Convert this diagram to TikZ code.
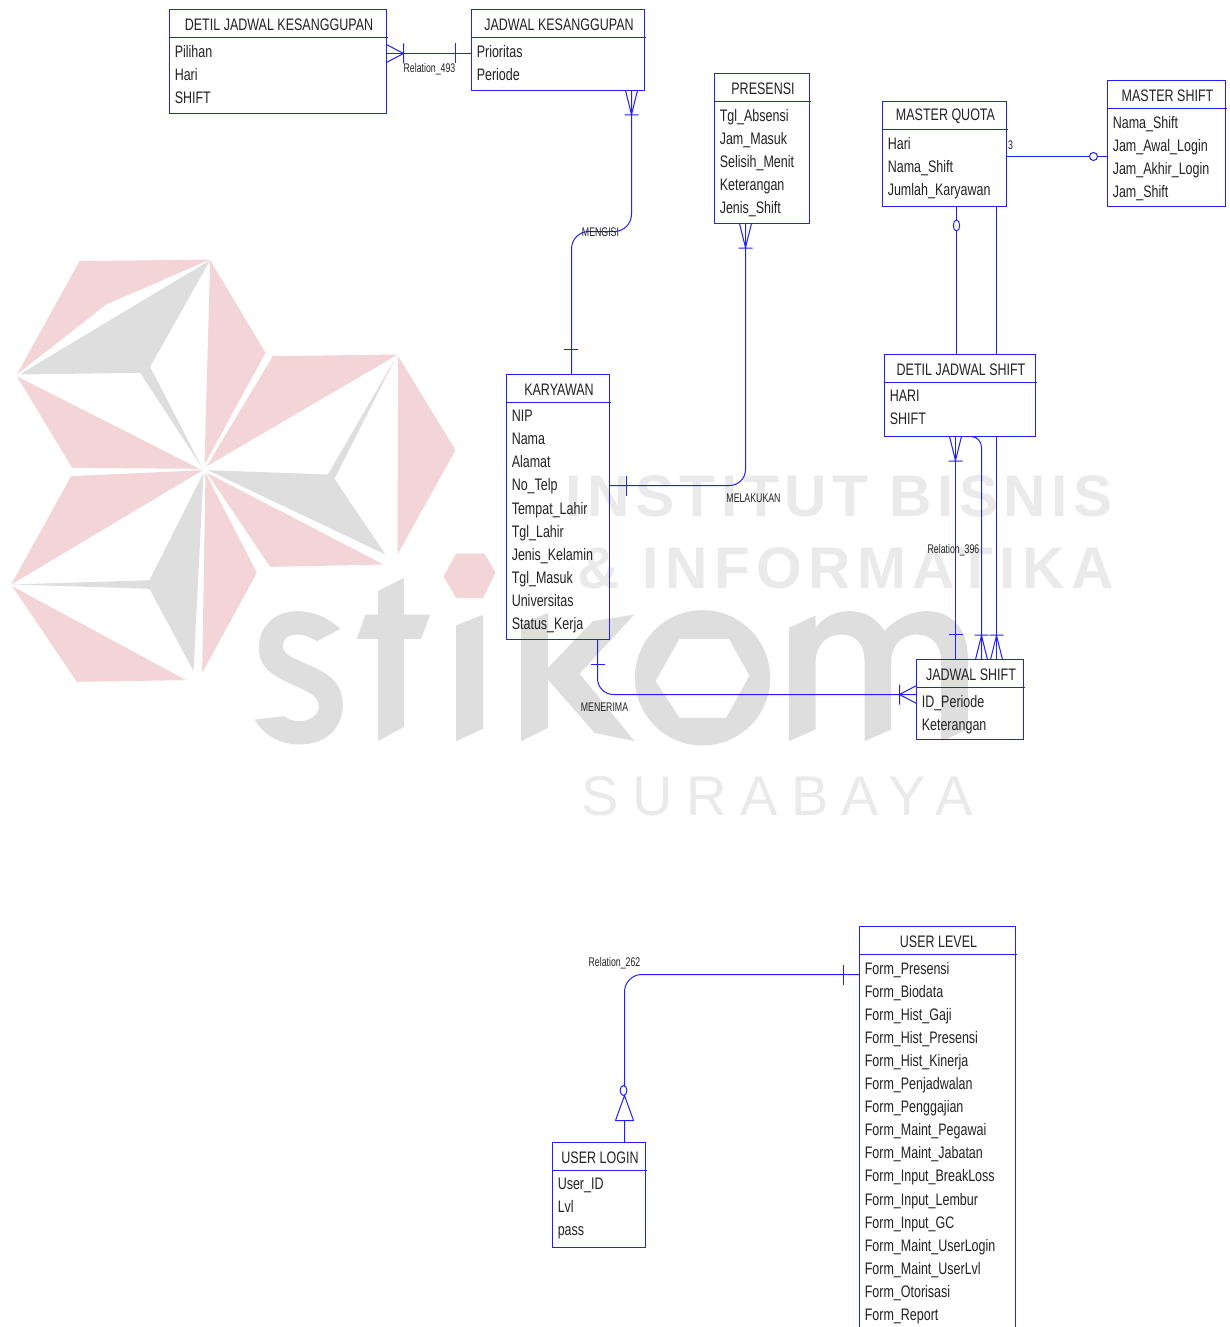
\documentclass[tikz,border=0pt]{standalone}
\usepackage{xcolor}
\usepackage{fontspec}
\setmainfont{Liberation Sans}
\newfontfamily\fontEr[FakeStretch=0.75]{Liberation Sans}
\newfontfamily\fontRel[FakeStretch=0.7]{Liberation Sans}
\newfontfamily\fontLogo[LetterSpace=9.3]{Liberation Sans Bold}
\newfontfamily\fontLogoB[LetterSpace=11]{Liberation Sans Bold}
\newfontfamily\fontKota[LetterSpace=24]{Liberation Sans}
\definecolor{biruGaris}{HTML}{2020FF}
\definecolor{teksHitam}{HTML}{222222}
\definecolor{abuLogo}{HTML}{DEDEDE}
\definecolor{merahLogo}{HTML}{F3D5D8}
\definecolor{abuTeks}{HTML}{EAEAEA}

\newcommand{\entitas}[7]{
\node[kotak,minimum width=#4*0.75pt,minimum height=#5*0.75pt,anchor=north west] (#1) at (#2,#3) {};
\node[judul] (#1j) at ([shift={(1,15)}]#1.north) {#6};
\draw[garis] ([shift={(0,28)}]#1.north west) -- ++(#4+1,0);
\node[isi] (#1i) at ([shift={(5,35.5)}]#1.north west) {#7};
}
\newcommand{\kakiV}[2]{\draw[garis] (#1) ++(-6,0) -- ++(6,#2*24) -- ++(6,-#2*24) ++(-13,#2*24.5) -- ++(14,0);}
\newcommand{\kakiH}[2]{\draw[garis] (#1) ++(0,-9) -- ++(#2*17,9) -- ++(-#2*17,9) ++(#2*17,-19) -- ++(0,20);}
\newcommand{\batangV}[1]{\draw[garis] (#1) ++(-7,0) -- ++(14,0);}
\newcommand{\batangH}[1]{\draw[garis] (#1) ++(0,-10) -- ++(0,20);}

\begin{document}
\begin{tikzpicture}[x=0.75pt,y=-0.75pt,
  garis/.style={draw=biruGaris,line width=0.75pt},
  kotak/.style={draw=biruGaris,line width=0.75pt,rectangle,inner sep=0pt,outer sep=0pt},
  judul/.style={text=teksHitam,font=\fontEr\fontsize{12.5}{15}\selectfont,inner sep=0pt},
  isi/.style={text=teksHitam,font=\fontEr\fontsize{12.5}{17.3}\selectfont,align=left,anchor=north west,inner sep=0pt},
  relasi/.style={text=teksHitam,font=\fontRel\fontsize{9.4}{10}\selectfont,inner sep=0pt}]
\clip (0.5,0.5) rectangle (1230.5,1327.5);
\useasboundingbox (0.5,0.5) rectangle (1230.5,1327.5);

\begin{scope}[shift={(0,240)},x=0.25pt,y=-0.25pt]
\fill[merahLogo] (240,65) -- (632,60) -- (320,195) -- (52,405) -- cycle;
\fill[abuLogo] (632,62) -- (60,405) -- (422,400) -- (608,685) -- (452,382) -- cycle;
\fill[merahLogo] (632,62) -- (798,340) -- (615,675) -- cycle;
\fill[merahLogo] (52,410) -- (600,688) -- (218,685) -- cycle;
\fill[merahLogo] (820,350) -- (1195,345) -- (622,680) -- cycle;
\fill[merahLogo] (1196,350) -- (1368,632) -- (1194,945) -- cycle;
\fill[abuLogo] (1190,352) -- (985,705) -- (625,692) -- (1158,945) -- (1005,718) -- cycle;
\fill[merahLogo] (622,700) -- (1152,975) -- (812,982) -- cycle;
\fill[merahLogo] (608,1300) -- (772,1000) -- (618,700) -- cycle;
\fill[abuLogo] (612,700) -- (450,1022) -- (40,1035) -- (450,1048) -- (582,1295) -- cycle;
\fill[merahLogo] (610,692) -- (215,710) -- (35,1035) -- cycle;
\fill[merahLogo] (38,1040) -- (560,1322) -- (232,1327) -- cycle;
\end{scope}

\begin{scope}[shift={(240,540)},x=0.25pt,y=-0.25pt]
\fill[abuLogo] (303,268) .. controls (260,230) and (215,215) .. (175,215)
  .. controls (100,215) and (58,265) .. (58,325) .. controls (58,385) and (100,410) .. (170,440)
  .. controls (215,460) and (238,475) .. (238,500) .. controls (238,530) and (205,545) .. (180,545)
  .. controls (160,545) and (145,540) .. (135,530) -- (45,540) .. controls (75,590) and (125,615) .. (180,615)
  .. controls (260,615) and (310,565) .. (310,495) .. controls (310,430) and (265,400) .. (205,375)
  .. controls (160,355) and (130,345) .. (130,320) .. controls (130,295) and (150,285) .. (175,285)
  .. controls (195,285) and (215,295) .. (232,305) -- cycle;
\fill[abuLogo] (415,155) -- (493,115) -- (493,225) -- (572,225) -- (545,298) -- (493,298) -- (493,562)
  -- (415,605) -- (415,298) -- (352,298) -- (378,225) -- (415,225) -- cycle;
\fill[abuLogo] (650,258) -- (730,226) -- (730,568) -- (650,605) -- cycle;
\fill[merahLogo] (612,110) -- (650,42) -- (735,42) -- (768,100) -- (730,176) -- (650,176) -- cycle;
\end{scope}

\begin{scope}[shift={(500,600)},x=0.25pt,y=-0.25pt]
\fill[abuLogo] (65,75) -- (145,40) -- (145,205) -- (280,65) -- (405,45) -- (240,222) -- (405,425)
  -- (285,400) -- (145,240) -- (145,385) -- (65,425) -- cycle;
\fill[abuLogo,even odd rule] (609,235) circle[radius=203]
  (540,118) -- (688,118) -- (750,228) -- (680,355) -- (540,355) -- (468,245) -- cycle;
\end{scope}

\begin{scope}[shift={(700,590)},x=0.25pt,y=-0.25pt]
\fill[abuLogo] (268,115) -- (348,78) -- (348,115) .. controls (375,80) and (410,65) .. (450,65)
  .. controls (495,65) and (530,85) .. (555,125) .. controls (590,85) and (640,65) .. (680,65)
  .. controls (760,65) and (805,120) .. (805,205) -- (805,420) -- (725,455) -- (725,215)
  .. controls (725,165) and (695,135) .. (650,135) .. controls (605,135) and (575,170) .. (575,215)
  -- (575,420) -- (495,455) -- (495,215) .. controls (495,165) and (470,135) .. (425,135)
  .. controls (380,135) and (348,170) .. (348,215) -- (348,420) -- (268,455) -- cycle;
\end{scope}

\node[text=abuTeks,font=\fontLogo\fontsize{44}{44}\selectfont,inner sep=0pt,anchor=west] (tInstitut) at (566,497) {INSTITUT BISNIS};
\node[text=abuTeks,font=\fontLogoB\fontsize{44}{44}\selectfont,inner sep=0pt,anchor=west] (tInformatika) at (578,569) {\& INFORMATIKA};
\node[text=abuTeks,font=\fontKota\fontsize{42}{42}\selectfont,inner sep=0pt,anchor=west] (tSurabaya) at (582,797) {SURABAYA};

\entitas{djk}{170}{10}{217}{104}{DETIL JADWAL KESANGGUPAN}{Pilihan\\Hari\\SHIFT}
\entitas{jk}{472}{10}{173}{81}{JADWAL KESANGGUPAN}{Prioritas\\Periode}
\entitas{presensi}{715}{74}{95}{150}{PRESENSI}{Tgl\_Absensi\\Jam\_Masuk\\Selisih\_Menit\\Keterangan\\Jenis\_Shift}
\entitas{mq}{883}{102}{124}{105}{MASTER QUOTA}{Hari\\Nama\_Shift\\Jumlah\_Karyawan}
\entitas{ms}{1108}{81}{118}{126}{MASTER SHIFT}{Nama\_Shift\\Jam\_Awal\_Login\\Jam\_Akhir\_Login\\Jam\_Shift}
\entitas{karyawan}{507}{375}{103}{265}{KARYAWAN}{NIP\\Nama\\Alamat\\No\_Telp\\Tempat\_Lahir\\Tgl\_Lahir\\Jenis\_Kelamin\\Tgl\_Masuk\\Universitas\\Status\_Kerja}
\entitas{djs}{885}{355}{151}{82}{DETIL JADWAL SHIFT}{HARI\\SHIFT}
\entitas{js}{917}{660}{107}{80}{JADWAL SHIFT}{ID\_Periode\\Keterangan}
\entitas{ul}{860}{927}{156}{430}{USER LEVEL}{Form\_Presensi\\Form\_Biodata\\Form\_Hist\_Gaji\\Form\_Hist\_Presensi\\Form\_Hist\_Kinerja\\Form\_Penjadwalan\\Form\_Penggajian\\Form\_Maint\_Pegawai\\Form\_Maint\_Jabatan\\Form\_Input\_BreakLoss\\Form\_Input\_Lembur\\Form\_Input\_GC\\Form\_Maint\_UserLogin\\Form\_Maint\_UserLvl\\Form\_Otorisasi\\Form\_Report}
\entitas{login}{553}{1143}{93}{105}{USER LOGIN}{User\_ID\\Lvl\\pass}

\draw[garis] (djk.east |- 0,54) -- (jk.west |- 0,54);
\kakiH{djk.east |- 0,54}{1}
\batangH{456,54}
\node[relasi] (r493) at (430,70) {Relation\_493};

\draw[garis,rounded corners=13pt] (jk.south -| 632,0) -- (632,232) -- (572,232) -- (karyawan.north -| 572,0);
\kakiV{jk.south -| 632,0}{1}
\batangV{571,350}
\node[relasi] (rMengisi) at (601,233) {MENGISI};

\draw[garis,rounded corners=12pt] (presensi.south -| 746,0) -- (746,486) -- (karyawan.east |- 0,486);
\kakiV{presensi.south -| 746,0}{1}
\batangH{627,486}
\node[relasi] (rMelakukan) at (754,499) {MELAKUKAN};

\draw[garis] (mq.east |- 0,157) -- (ms.west |- 0,157);
\draw[garis,fill=white] (1094,157) circle[radius=4];
\node[relasi] (rTiga) at (1011,146) {3};

\draw[garis] (mq.south -| 957,0) -- (djs.north -| 957,0);
\draw[garis,fill=white] (957,226) ellipse[x radius=3.2,y radius=5.5];
\draw[garis] (mq.south -| 997,0) -- (djs.north -| 997,0);

\draw[garis] (djs.south -| 956,0) -- (js.north -| 956,0);
\kakiV{djs.south -| 956,0}{1}
\batangV{956,635}
\node[relasi] (r396) at (954,551) {Relation\_396};

\draw[garis,rounded corners=8pt] (djs.south -| 978,0) -- (982,437) -- (js.north -| 982,0);
\kakiV{js.north -| 982,0}{-1}
\draw[garis] (djs.south -| 997,0) -- (js.north -| 997,0);
\kakiV{js.north -| 997,0}{-1}

\draw[garis,rounded corners=12pt] (karyawan.south -| 598,0) -- (598,695) -- (js.west |- 0,695);
\batangV{598,665}
\kakiH{js.west |- 0,695}{-1}
\node[relasi] (rMenerima) at (605,708) {MENERIMA};

\draw[garis,rounded corners=13pt] (login.north -| 625,0) -- (625,975) -- (ul.west |- 0,975);
\draw[garis,fill=white] (625,1096) -- (634,1121) -- (616,1121) -- cycle;
\draw[garis,fill=white] (624,1091) ellipse[x radius=3.4,y radius=5];
\batangH{844,975}
\node[relasi] (r262) at (615,964) {Relation\_262};
\end{tikzpicture}
\end{document}
